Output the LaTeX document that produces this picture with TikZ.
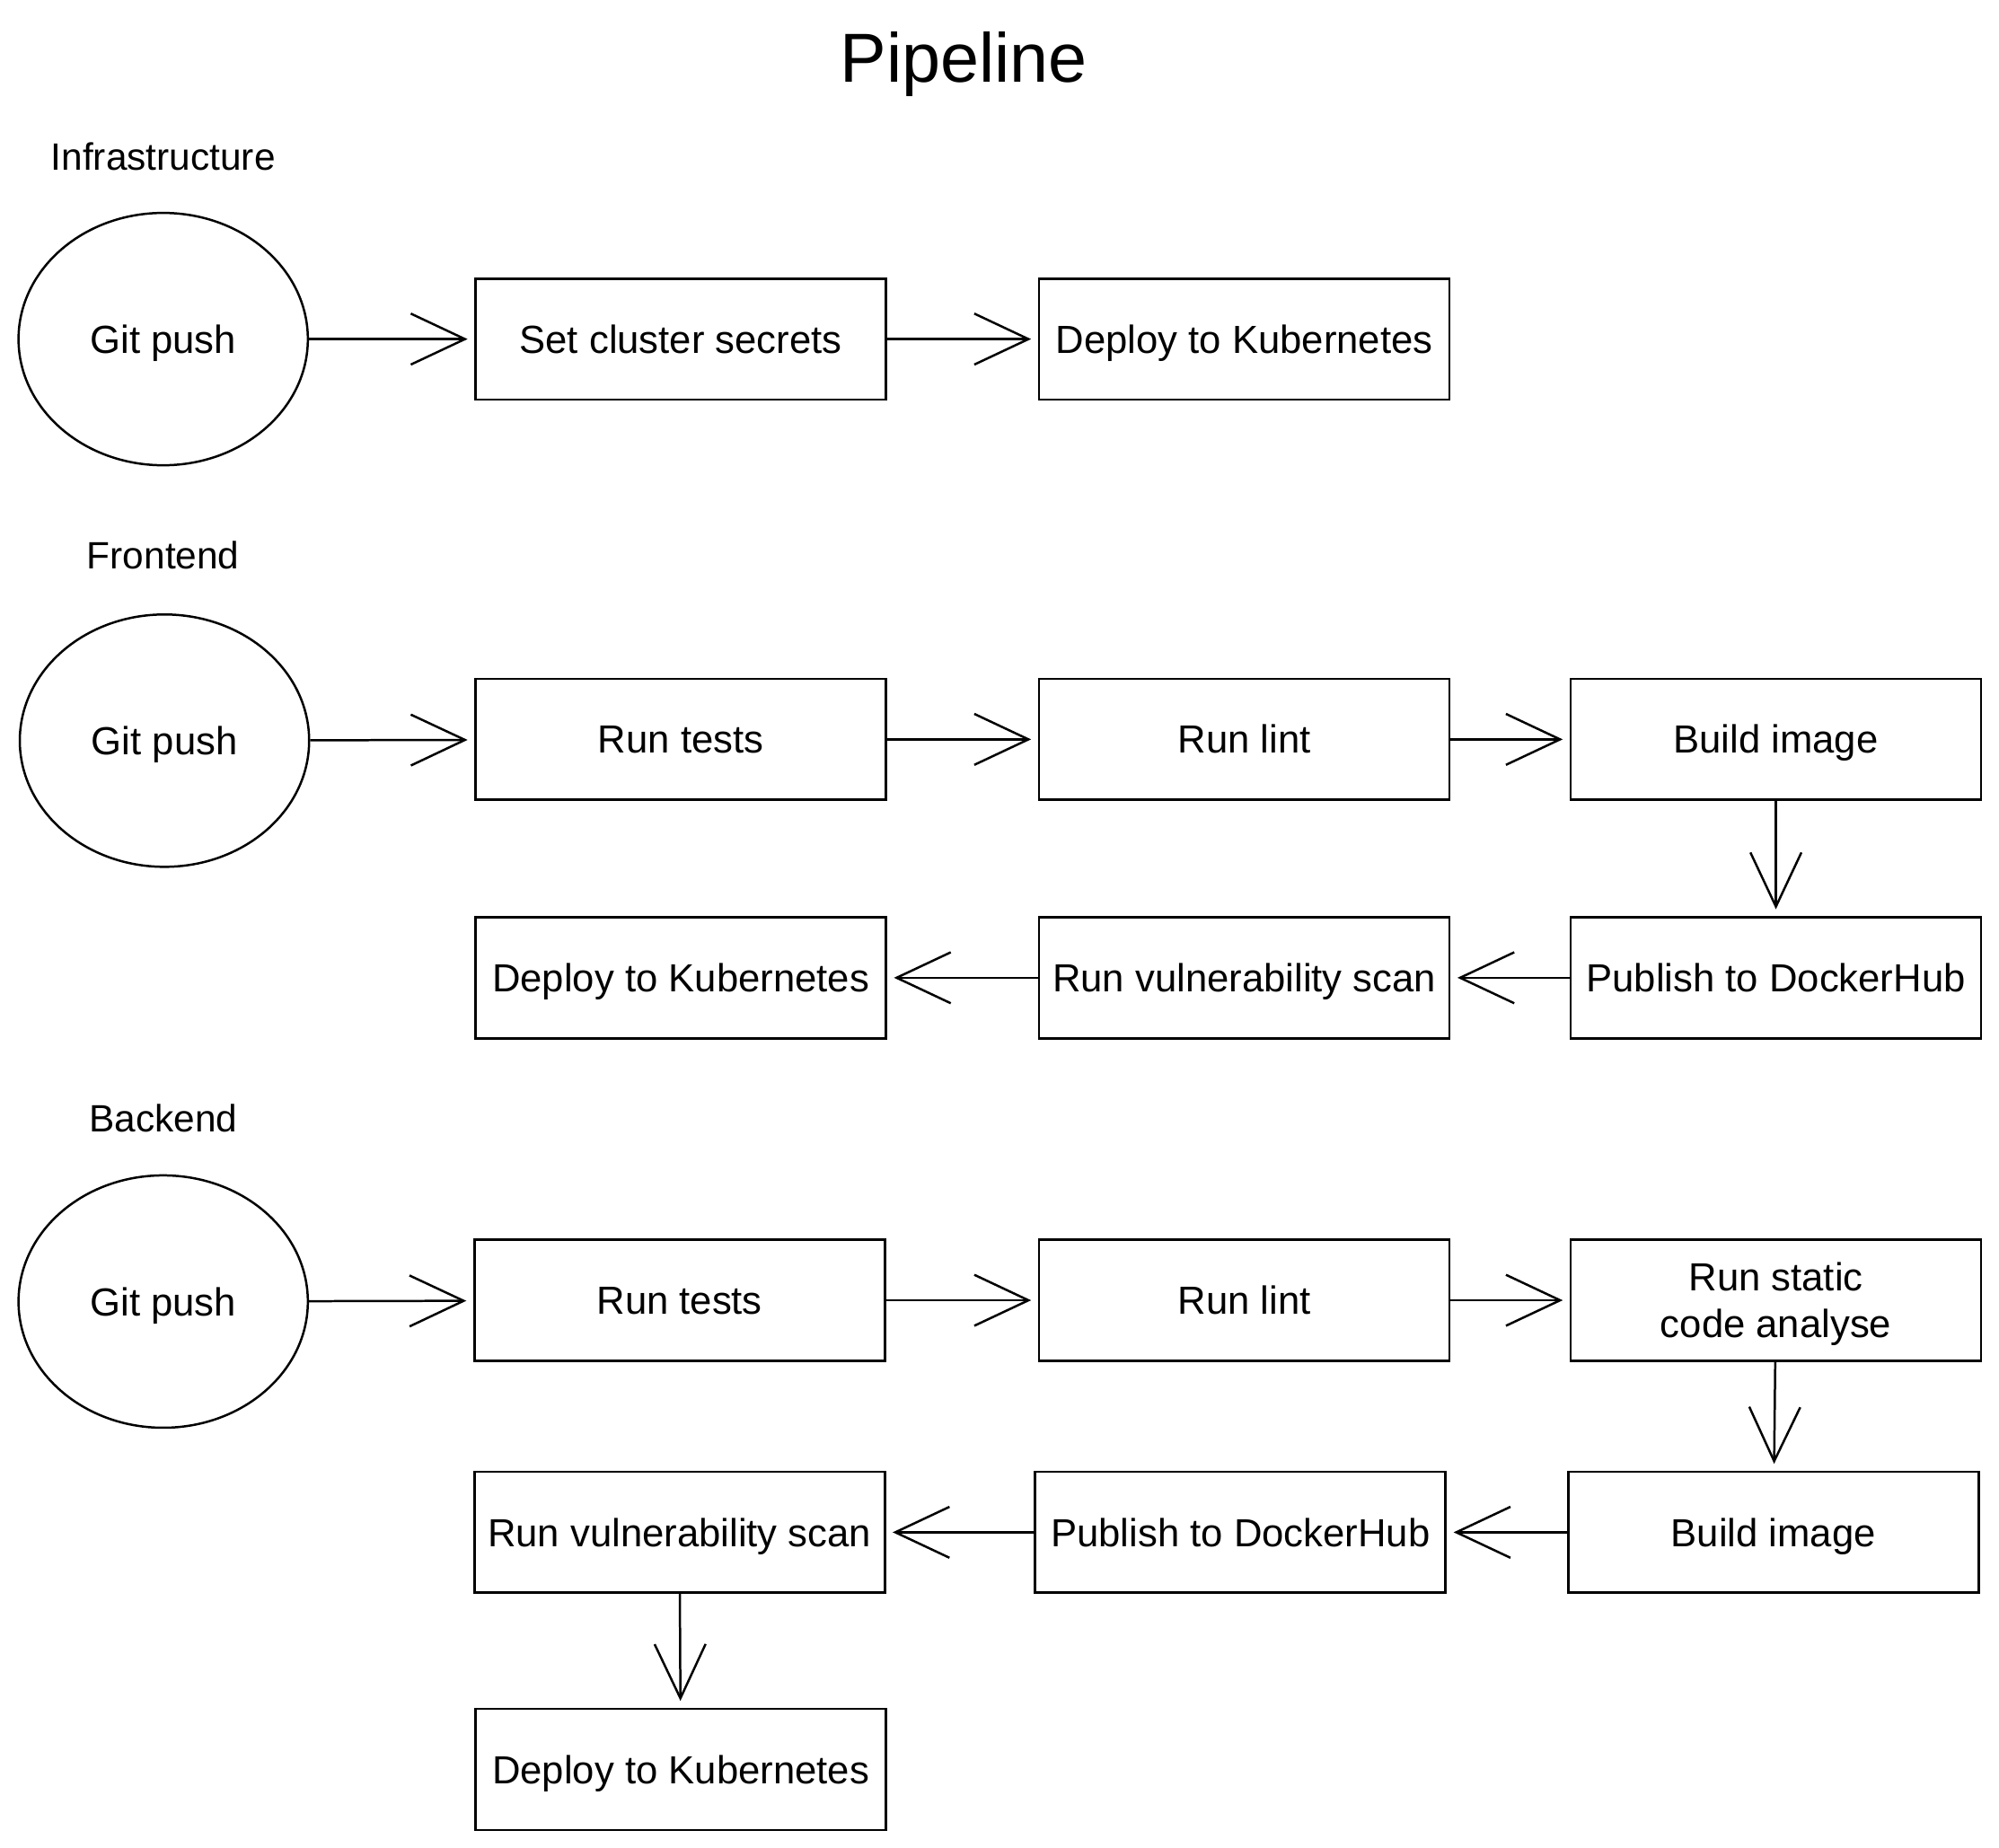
\documentclass[tikz,border=0pt]{standalone}
\usepackage{fontspec}
\setmainfont{Liberation Sans}
\usetikzlibrary{arrows.meta,shapes.geometric}
\tikzset{stagebox/.style={draw,rectangle,line width=1.1pt,minimum width=6.44cm,minimum height=1.9cm,inner sep=0pt,align=center,text height=12.5pt,text depth=0pt,font=\fontsize{17.5}{21}\selectfont},
    gitcircle/.style={draw,ellipse,line width=1pt,minimum width=4.54cm,minimum height=3.96cm,inner sep=0pt,text height=12.5pt,text depth=0pt,font=\fontsize{17.5}{21}\selectfont},
    lanelabel/.style={text height=12pt,text depth=0pt,font=\fontsize{17}{20}\selectfont},
    flow/.style={-{Straight Barb[length=0.85cm,width=0.8cm,line width=1pt]},line width=1pt,shorten >=3pt}}
\begin{document}
\begin{tikzpicture}[x=0.02cm,y=-0.02cm]
\useasboundingbox (0,0) rectangle (1568,1449);

\node (title) [font=\fontsize{31}{36}\selectfont,text height=22pt,text depth=0pt] at (756,45) {Pipeline};

% infrastructure
\node (infra) [lanelabel] at (128,123) {Infrastructure};
\node (i0) [gitcircle] at (128,266) {Git push};
\node (i1) [stagebox] at (534,266) {Set cluster secrets};
\node (i2) [stagebox] at (976,266) {Deploy to Kubernetes};
\draw [flow] (i0) -- (i1);
\draw [flow] (i1) -- (i2);

% frontend
\node (front) [lanelabel] at (128,436) {Frontend};
\node (f0) [gitcircle] at (129,581) {Git push};
\node (f1) [stagebox] at (534,580) {Run tests};
\node (f2) [stagebox] at (976,580) {Run lint};
\node (f3) [stagebox] at (1393,580) {Build image};
\node (f4) [stagebox] at (1393,767) {Publish to DockerHub};
\node (f5) [stagebox] at (976,767) {Run vulnerability scan};
\node (f6) [stagebox] at (534,767) {Deploy to Kubernetes};
\draw [flow] (f0) -- (f1);
\draw [flow] (f1) -- (f2);
\draw [flow] (f2) -- (f3);
\draw [flow] (f3) -- (f4);
\draw [flow] (f4) -- (f5);
\draw [flow] (f5) -- (f6);

% backend
\node (back) [lanelabel] at (128,877) {Backend};
\node (b0) [gitcircle] at (128,1021) {Git push};
\node (b1) [stagebox] at (533,1020) {Run tests};
\node (b2) [stagebox] at (976,1020) {Run lint};
\node (b3) [stagebox,text height=33.5pt] at (1393,1020) {Run static\\code analyse};
\node (b4) [stagebox] at (1391,1202) {Build image};
\node (b5) [stagebox] at (973,1202) {Publish to DockerHub};
\node (b6) [stagebox] at (533,1202) {Run vulnerability scan};
\node (b7) [stagebox] at (534,1388) {Deploy to Kubernetes};
\draw [flow] (b0) -- (b1);
\draw [flow] (b1) -- (b2);
\draw [flow] (b2) -- (b3);
\draw [flow] (b3) -- (b4);
\draw [flow] (b4) -- (b5);
\draw [flow] (b5) -- (b6);
\draw [flow] (b6) -- (b7);

\end{tikzpicture}
\end{document}
